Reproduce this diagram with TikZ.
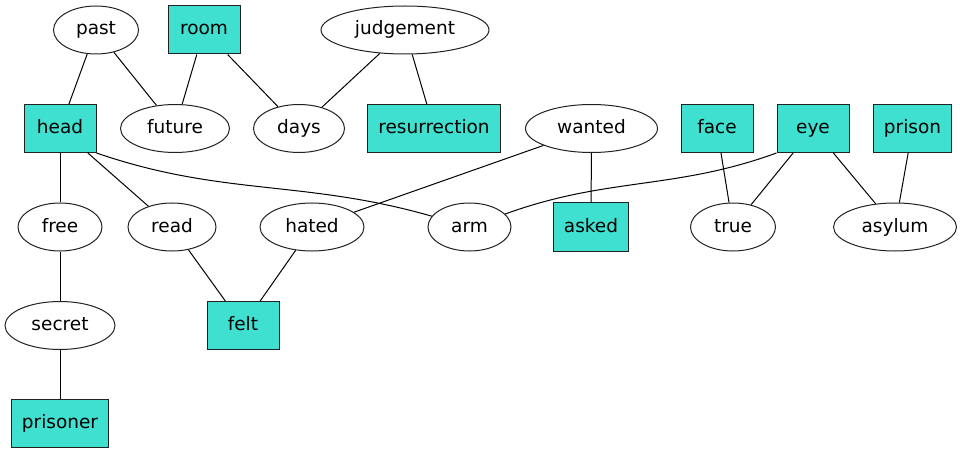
\documentclass[tikz,border=0pt]{standalone}
\usepackage{fontspec}
\setmainfont{DejaVu Sans}
\usetikzlibrary{shapes.geometric}
\definecolor{turq}{HTML}{40E0D0}
\definecolor{rim}{HTML}{222222}
\tikzset{vx/.style={draw=rim,line width=1pt,font=\fontsize{18.5}{20}\selectfont,inner sep=0pt,minimum height=48pt,text height=14pt,text depth=4pt},
         wordell/.style={vx,ellipse,fill=white},
         kwbox/.style={vx,rectangle,fill=turq,minimum width=72pt,inner xsep=10.5pt},
         link/.style={line width=1pt,black}}

\begin{document}
\begin{tikzpicture}[x=1pt,y=1pt]
 \fill[white] (0,0) rectangle (960,453);
 \useasboundingbox (0,0) rectangle (960,453);
 % top rank
 \node[wordell,minimum width=85pt] (past) at (96,423) {past};
 \node[kwbox] (room) at (204,423) {room};
 \node[wordell,minimum width=168pt] (judgement) at (405,423) {judgement};
 % second rank
 \node[kwbox] (head) at (60,324.5) {head};
 \node[wordell,minimum width=109pt] (future) at (175,324.5) {future};
 \node[wordell,minimum width=91pt] (days) at (299,324.5) {days};
 \node[kwbox] (resurrection) at (434,324.5) {resurrection};
 \node[wordell,minimum width=132pt] (wanted) at (591.5,324.5) {wanted};
 \node[kwbox] (face) at (717,324.5) {face};
 \node[kwbox] (eye) at (813,324.5) {eye};
 \node[kwbox] (prison) at (912.5,324.5) {prison};
 % third rank
 \node[wordell,minimum width=84pt] (free) at (60,226) {free};
 \node[wordell,minimum width=88pt] (read) at (172,226) {read};
 \node[wordell,minimum width=104pt] (hated) at (312,226) {hated};
 \node[wordell,minimum width=83pt] (arm) at (469.5,226) {arm};
 \node[kwbox] (asked) at (591,226) {asked};
 \node[wordell,minimum width=85pt] (true) at (733,226) {true};
 \node[wordell,minimum width=123pt] (asylum) at (895,226) {asylum};
 % lower ranks
 \node[wordell,minimum width=110pt] (secret) at (60,127.5) {secret};
 \node[kwbox] (felt) at (243,127.5) {felt};
 \node[kwbox] (prisoner) at (60,29.5) {prisoner};
 % edges
 \draw[link] (past) -- (head); \draw[link] (past) -- (future);
 \draw[link] (room) -- (future); \draw[link] (room) -- (days);
 \draw[link] (judgement) -- (days); \draw[link] (judgement) -- (resurrection);
 \draw[link] (head) -- (free); \draw[link] (head) -- (read);
 \draw[link] (head.south east) to[out=-19,in=164] (arm);
 \draw[link] (wanted) -- (hated); \draw[link] (wanted) -- (asked);
 \draw[link] (face) -- (true);
 \draw[link] (eye.south west) to[out=200,in=20] (arm);
 \draw[link] (eye) -- (true); \draw[link] (eye) -- (asylum);
 \draw[link] (prison) -- (asylum);
 \draw[link] (free) -- (secret); \draw[link] (secret) -- (prisoner);
 \draw[link] (read) -- (felt); \draw[link] (hated) -- (felt);
\end{tikzpicture}
\end{document}
